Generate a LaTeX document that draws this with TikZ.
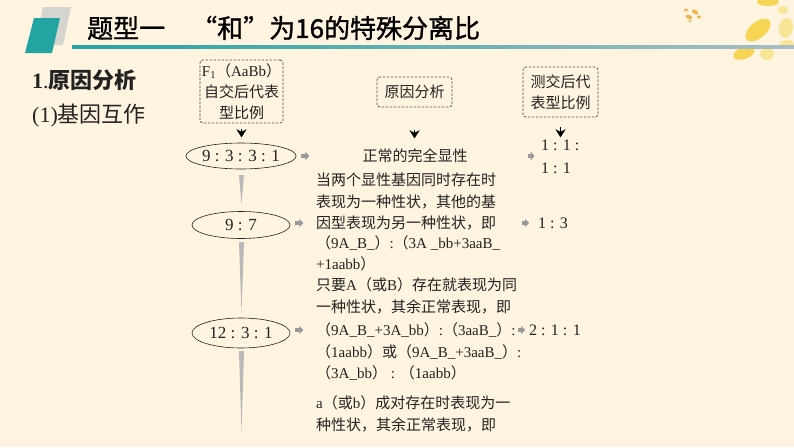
\documentclass[tikz,border=0pt]{standalone}
\usepackage{fontspec}
\setmainfont{Liberation Serif}
\newfontfamily\cjk{Noto Sans CJK SC}
\newfontfamily\cjktitle[FakeBold=1.2]{Noto Sans CJK SC}
\usetikzlibrary{shapes.geometric,arrows.meta}
\definecolor{bgc}{HTML}{FEF4DF}
\definecolor{tealc}{HTML}{22A5A2}
\definecolor{linegray}{HTML}{AABDC7}
\definecolor{txt}{HTML}{222222}
\definecolor{boxline}{HTML}{505050}
\definecolor{petal}{HTML}{F7CF3C}
\definecolor{petalpale}{HTML}{F9E38A}
\definecolor{petalor}{HTML}{EDA83A}
\newcommand\cj[1]{{\cjk#1}}
\begin{document}
\begin{tikzpicture}[x=1pt,y=-1pt,
  dbox/.style={draw=boxline,dashed,dash pattern=on 2.5pt off 1.5pt,line width=0.7pt,rounded corners=3pt,
    align=center,inner sep=0pt,text=txt,font=\fontsize{15}{20}\selectfont},
  ratio/.style={draw=txt,ellipse,line width=0.6pt,minimum width=98pt,inner sep=0pt,text=txt,
    font=\fontsize{17}{20}\selectfont},
  tline/.style={anchor=west,inner sep=0pt,text=txt,font=\fontsize{15}{18}\selectfont},
  rtxt/.style={anchor=west,inner sep=0pt,text=txt,font=\fontsize{16}{18}\selectfont},
  downtri/.style={-{Stealth[length=8pt,width=10pt,inset=2.5pt]},line width=0.3pt,draw=black,fill=black},
  grayarr/.style={-{Triangle[length=4pt,width=8pt]},line width=3.2pt,draw=gray!80},
  taper/.style={fill=gray!55,draw=none}]
\useasboundingbox (0,0) rectangle (794,447);
\fill[bgc] (0,0) rectangle (794,447);
% decoration top right
\begin{scope}[opacity=0.85]
\fill[petal,rotate around={40:(758,30)}] (758,30) ellipse (15pt and 8pt);
\fill[petalpale,rotate around={80:(786,28)}] (786,28) ellipse (10pt and 7pt);
\fill[petal] (768,2) ellipse (11pt and 4pt);
\fill[petalpale] (783,10) ellipse (5pt and 4pt);
\fill[petal,rotate around={20:(744,53)}] (744,53) ellipse (11pt and 6pt);
\fill[petalpale] (767,54) ellipse (7pt and 6pt);
\fill[petalpale] (787,44) ellipse (7pt and 4pt);
\fill[petalor,rotate around={-30:(695,12)}] (695,12) ellipse (3.5pt and 2pt);
\fill[petalor,rotate around={-20:(689,17)}] (689,17) ellipse (3.5pt and 2pt);
\fill[petalor] (686,10) ellipse (2pt and 1.5pt);
\fill[petalor] (699,17) ellipse (2pt and 1.5pt);
\fill[petalor] (690,21) ellipse (1.5pt and 1.2pt);
\end{scope}
% header shapes
\fill[gray!40,opacity=0.8] (43,7) -- (71,7) -- (63,45) -- (35,45) -- cycle;
\fill[tealc] (34,18) -- (60,18) -- (52,53) -- (25,53) -- cycle;
\shade[left color=tealc,right color=linegray] (72,45) rectangle (794,48);
\node[anchor=west,inner sep=0pt,font=\cjktitle\fontsize{26}{30}\selectfont,text=black] (title) at (87,28)
  {题型一　“和”为16的特殊分离比};
% left headings
\node[anchor=west,inner sep=0pt,text=txt,font=\fontsize{22}{26}\selectfont] (h1) at (32,80)
  {\textbf{1}.{\cjk\bfseries 原因分析}};
\node[anchor=west,inner sep=0pt,text=txt,font=\fontsize{22}{26}\selectfont] (h2) at (32,116)
  {(1)\cj{基因互作}};
% dashed boxes
\node[dbox,minimum width=83pt,minimum height=63pt] (b1) at (241.5,91.5)
  {F\textsubscript{1}\cj{（}AaBb\cj{）}\\[1pt]\cj{自交后代表}\\[1pt]\cj{型比例}};
\node[dbox,minimum width=75pt,minimum height=30pt] (b2) at (414.5,92) {\cj{原因分析}};
\node[dbox,minimum width=75pt,minimum height=50pt] (b3) at (560.5,92)
  {\cj{测交后代}\\[1pt]\cj{表型比例}};
% ellipses
\node[ratio,minimum height=26pt] (e1) at (241,156) {9 : 3 : 3 : 1};
\node[ratio,minimum height=27pt] (e2) at (241,225) {9 : 7};
\node[ratio,minimum height=30pt] (e3) at (241,333) {12 : 3 : 1};
% tapered bars
\fill[taper] (239,175) -- (244,175) -- (241.5,204) -- cycle;
\fill[taper] (239,242) -- (244,242) -- (241.5,313) -- cycle;
\fill[taper] (239,351) -- (244,351) -- (241.5,433) -- cycle;
% row 1
\node[tline,anchor=center] (c1) at (415,156) {\cj{正常的完全显性}};
\node[rtxt] (r1a) at (541,145) {1 : 1 :};
\node[rtxt] (r1b) at (541,168) {1 : 1};
% row 2
\node[tline] (c2a) at (316,180) {\cj{当两个显性基因同时存在时}};
\node[tline] (c2b) at (316,202) {\cj{表现为一种性状，其他的基}};
\node[tline] (c2c) at (316,223) {\cj{因型表现为另一种性状，即}};
\node[tline] (c2d) at (316,243) {\cj{（}9A\_B\_\cj{）}:\cj{（}3A \_bb+3aaB\_};
\node[tline] (c2e) at (316,264) {+1aabb\cj{）}};
\node[rtxt] (r2) at (538,223) {1 : 3};
% row 3
\node[tline] (c3a) at (316,285) {\cj{只要}A\cj{（或}B\cj{）存在就表现为同}};
\node[tline] (c3b) at (316,307) {\cj{一种性状，其余正常表现，即}};
\node[tline] (c3c) at (316,330) {\cj{（}9A\_B\_+3A\_bb\cj{）}:\cj{（}3aaB\_\cj{）}:};
\node[tline] (c3d) at (316,352) {\cj{（}1aabb\cj{）或（}9A\_B\_+3aaB\_\cj{）}:};
\node[tline] (c3e) at (316,373) {\cj{（}3A\_bb\cj{）} : \cj{（}1aabb\cj{）}};
\node[tline] (c3f) at (316,403) {a\cj{（或}b\cj{）成对存在时表现为一}};
\node[tline] (c3g) at (316,425) {\cj{种性状，其余正常表现，即}};
\node[rtxt] (r3) at (529,330) {2 : 1 : 1};
% down triangles
\draw[downtri] ([yshift=-6pt]b1.south) -- ++(0,8);
\draw[downtri] ([yshift=-23pt]b2.south) -- ++(0,8);
\draw[downtri] ([yshift=-10pt]b3.south) -- ++(0,10);
% gray arrows
\draw[grayarr] ([xshift=5pt]e1.east) -- ++(8,0);
\draw[grayarr] ([xshift=5pt]e2.east |- c2c) -- ++(8,0);
\draw[grayarr] ([xshift=5pt]e3.east |- c3c) -- ++(8,0);
\draw[grayarr] ([xshift=60pt]c1.east) -- ++(7,0);
\draw[grayarr] ([xshift=-16pt]r2.west) -- ++(7,0);
\draw[grayarr] ([xshift=-11pt]r3.west) -- ++(7,0);
\end{tikzpicture}
\end{document}
